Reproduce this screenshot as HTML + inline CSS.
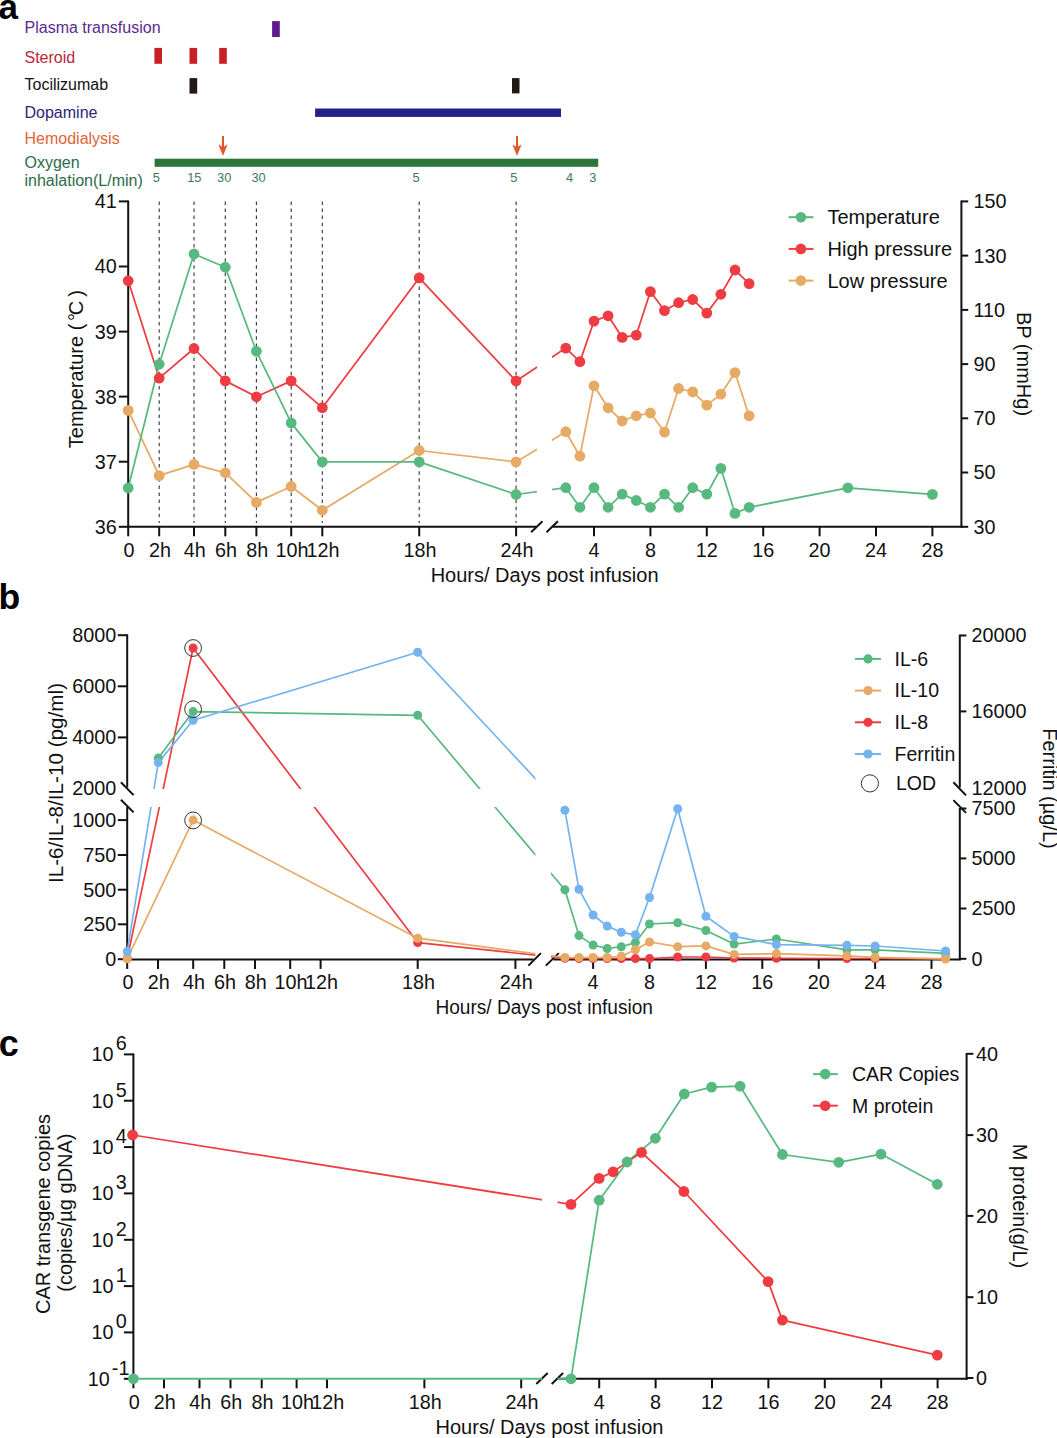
<!DOCTYPE html>
<html><head><meta charset="utf-8"><style>
html,body{margin:0;padding:0;background:#fff;}
svg{display:block;font-family:"Liberation Sans",sans-serif;}
</style></head><body>
<svg width="1057" height="1438" viewBox="0 0 1057 1438">
<rect width="1057" height="1438" fill="#fff"/>
<defs>
<clipPath id="ca"><rect x="0" y="150" width="537" height="400"/><rect x="552" y="150" width="505" height="400"/></clipPath>
<clipPath id="cb"><rect x="0" y="600" width="535.4" height="189"/><rect x="551" y="600" width="506" height="189"/><rect x="0" y="806.9" width="535.4" height="200"/><rect x="551" y="806.9" width="506" height="200"/></clipPath>
<clipPath id="cc"><rect x="0" y="1000" width="542" height="438"/><rect x="557.5" y="1000" width="500" height="438"/></clipPath>
</defs>
<text x="-1.6" y="18.7" font-size="35" text-anchor="start" fill="#000" font-weight="bold" >a</text>
<text x="24.5" y="32.9" font-size="16" text-anchor="start" fill="#5A2A8E" font-weight="normal" >Plasma transfusion</text>
<text x="24.5" y="63.2" font-size="16" text-anchor="start" fill="#B8283A" font-weight="normal" >Steroid</text>
<text x="24.5" y="89.7" font-size="16" text-anchor="start" fill="#111" font-weight="normal" >Tocilizumab</text>
<text x="24.5" y="118.2" font-size="16" text-anchor="start" fill="#2A2578" font-weight="normal" >Dopamine</text>
<text x="24.5" y="144" font-size="16" text-anchor="start" fill="#DE6535" font-weight="normal" >Hemodialysis</text>
<text x="24.5" y="167.5" font-size="16" text-anchor="start" fill="#2D6B48" font-weight="normal" >Oxygen</text>
<text x="24.5" y="186.4" font-size="16" text-anchor="start" fill="#2D6B48" font-weight="normal" >inhalation(L/min)</text>
<rect x="272.1" y="21.1" width="7.7" height="15.9" fill="#5F1C91"/>
<rect x="154.4" y="47.9" width="7.6" height="15.9" fill="#C82026"/>
<rect x="189.5" y="47.9" width="7.6" height="15.9" fill="#C82026"/>
<rect x="219.2" y="47.9" width="7.6" height="15.9" fill="#C82026"/>
<rect x="189.5" y="78.1" width="7.7" height="15.5" fill="#231815"/>
<rect x="512" y="78.1" width="7.5" height="15.3" fill="#231815"/>
<rect x="315.1" y="108.5" width="245.9" height="8.4" fill="#24208C"/>
<rect x="154.6" y="158.7" width="443.6" height="8.1" fill="#2C763A"/>
<line x1="223" y1="135.9" x2="223" y2="149" stroke="#E15523" stroke-width="2" />
<path d="M218.9,144.9 L223,147.6 L227.1,144.9 L223,155.3 Z" fill="#E15523" stroke="#E15523" stroke-width="0.5" stroke-linejoin="round"/>
<line x1="517" y1="135.9" x2="517" y2="149" stroke="#E15523" stroke-width="2" />
<path d="M512.9,144.9 L517,147.6 L521.1,144.9 L517,155.3 Z" fill="#E15523" stroke="#E15523" stroke-width="0.5" stroke-linejoin="round"/>
<text x="156.4" y="181.9" font-size="12.8" text-anchor="middle" fill="#3E7A55" font-weight="normal" >5</text>
<text x="194.3" y="181.9" font-size="12.8" text-anchor="middle" fill="#3E7A55" font-weight="normal" >15</text>
<text x="224.2" y="181.9" font-size="12.8" text-anchor="middle" fill="#3E7A55" font-weight="normal" >30</text>
<text x="258.5" y="181.9" font-size="12.8" text-anchor="middle" fill="#3E7A55" font-weight="normal" >30</text>
<text x="416" y="181.9" font-size="12.8" text-anchor="middle" fill="#3E7A55" font-weight="normal" >5</text>
<text x="513.7" y="181.9" font-size="12.8" text-anchor="middle" fill="#3E7A55" font-weight="normal" >5</text>
<text x="569.5" y="181.9" font-size="12.8" text-anchor="middle" fill="#3E7A55" font-weight="normal" >4</text>
<text x="592.8" y="181.9" font-size="12.8" text-anchor="middle" fill="#3E7A55" font-weight="normal" >3</text>
<line x1="128.2" y1="200.5" x2="128.2" y2="527.8" stroke="#111111" stroke-width="2" />
<line x1="118.8" y1="201.4" x2="128.2" y2="201.4" stroke="#111111" stroke-width="2" />
<text x="116.8" y="208.3" font-size="19.8" text-anchor="end" fill="#111" font-weight="normal" >41</text>
<line x1="118.8" y1="266.5" x2="128.2" y2="266.5" stroke="#111111" stroke-width="2" />
<text x="116.8" y="273.4" font-size="19.8" text-anchor="end" fill="#111" font-weight="normal" >40</text>
<line x1="118.8" y1="331.6" x2="128.2" y2="331.6" stroke="#111111" stroke-width="2" />
<text x="116.8" y="338.5" font-size="19.8" text-anchor="end" fill="#111" font-weight="normal" >39</text>
<line x1="118.8" y1="396.6" x2="128.2" y2="396.6" stroke="#111111" stroke-width="2" />
<text x="116.8" y="403.5" font-size="19.8" text-anchor="end" fill="#111" font-weight="normal" >38</text>
<line x1="118.8" y1="461.7" x2="128.2" y2="461.7" stroke="#111111" stroke-width="2" />
<text x="116.8" y="468.6" font-size="19.8" text-anchor="end" fill="#111" font-weight="normal" >37</text>
<line x1="118.8" y1="526.8" x2="128.2" y2="526.8" stroke="#111111" stroke-width="2" />
<text x="116.8" y="533.7" font-size="19.8" text-anchor="end" fill="#111" font-weight="normal" >36</text>
<line x1="961.4" y1="200.5" x2="961.4" y2="527.8" stroke="#111111" stroke-width="2" />
<line x1="961.4" y1="201.4" x2="968.2" y2="201.4" stroke="#111111" stroke-width="2" />
<text x="973.5" y="208.3" font-size="19.8" text-anchor="start" fill="#111" font-weight="normal" >150</text>
<line x1="961.4" y1="255.6" x2="968.2" y2="255.6" stroke="#111111" stroke-width="2" />
<text x="973.5" y="262.5" font-size="19.8" text-anchor="start" fill="#111" font-weight="normal" >130</text>
<line x1="961.4" y1="309.9" x2="968.2" y2="309.9" stroke="#111111" stroke-width="2" />
<text x="973.5" y="316.8" font-size="19.8" text-anchor="start" fill="#111" font-weight="normal" >110</text>
<line x1="961.4" y1="364.1" x2="968.2" y2="364.1" stroke="#111111" stroke-width="2" />
<text x="973.5" y="371" font-size="19.8" text-anchor="start" fill="#111" font-weight="normal" >90</text>
<line x1="961.4" y1="418.3" x2="968.2" y2="418.3" stroke="#111111" stroke-width="2" />
<text x="973.5" y="425.2" font-size="19.8" text-anchor="start" fill="#111" font-weight="normal" >70</text>
<line x1="961.4" y1="472.5" x2="968.2" y2="472.5" stroke="#111111" stroke-width="2" />
<text x="973.5" y="479.4" font-size="19.8" text-anchor="start" fill="#111" font-weight="normal" >50</text>
<line x1="961.4" y1="526.8" x2="968.2" y2="526.8" stroke="#111111" stroke-width="2" />
<text x="973.5" y="533.7" font-size="19.8" text-anchor="start" fill="#111" font-weight="normal" >30</text>
<line x1="127.2" y1="526.8" x2="536" y2="526.8" stroke="#111111" stroke-width="2" />
<line x1="552.5" y1="526.8" x2="962.4" y2="526.8" stroke="#111111" stroke-width="2" />
<line x1="531.1" y1="532.3" x2="542.5" y2="521.3" stroke="#111111" stroke-width="2" />
<line x1="546.5" y1="532.3" x2="557.9" y2="521.3" stroke="#111111" stroke-width="2" />
<line x1="128.2" y1="526.8" x2="128.2" y2="536.3" stroke="#111111" stroke-width="2" />
<text x="129" y="557" font-size="19.8" text-anchor="middle" fill="#111" font-weight="normal" >0</text>
<line x1="159.2" y1="526.8" x2="159.2" y2="536.3" stroke="#111111" stroke-width="2" />
<text x="160" y="557" font-size="19.8" text-anchor="middle" fill="#111" font-weight="normal" >2h</text>
<line x1="194" y1="526.8" x2="194" y2="536.3" stroke="#111111" stroke-width="2" />
<text x="194.8" y="557" font-size="19.8" text-anchor="middle" fill="#111" font-weight="normal" >4h</text>
<line x1="225.3" y1="526.8" x2="225.3" y2="536.3" stroke="#111111" stroke-width="2" />
<text x="226.1" y="557" font-size="19.8" text-anchor="middle" fill="#111" font-weight="normal" >6h</text>
<line x1="256.4" y1="526.8" x2="256.4" y2="536.3" stroke="#111111" stroke-width="2" />
<text x="257.2" y="557" font-size="19.8" text-anchor="middle" fill="#111" font-weight="normal" >8h</text>
<line x1="291.2" y1="526.8" x2="291.2" y2="536.3" stroke="#111111" stroke-width="2" />
<text x="292" y="557" font-size="19.8" text-anchor="middle" fill="#111" font-weight="normal" >10h</text>
<line x1="322.3" y1="526.8" x2="322.3" y2="536.3" stroke="#111111" stroke-width="2" />
<text x="323.1" y="557" font-size="19.8" text-anchor="middle" fill="#111" font-weight="normal" >12h</text>
<line x1="419.2" y1="526.8" x2="419.2" y2="536.3" stroke="#111111" stroke-width="2" />
<text x="420" y="557" font-size="19.8" text-anchor="middle" fill="#111" font-weight="normal" >18h</text>
<line x1="516.1" y1="526.8" x2="516.1" y2="536.3" stroke="#111111" stroke-width="2" />
<text x="516.9" y="557" font-size="19.8" text-anchor="middle" fill="#111" font-weight="normal" >24h</text>
<line x1="594" y1="526.8" x2="594" y2="536.3" stroke="#111111" stroke-width="2" />
<text x="594" y="557" font-size="19.8" text-anchor="middle" fill="#111" font-weight="normal" >4</text>
<line x1="650.4" y1="526.8" x2="650.4" y2="536.3" stroke="#111111" stroke-width="2" />
<text x="650.4" y="557" font-size="19.8" text-anchor="middle" fill="#111" font-weight="normal" >8</text>
<line x1="706.8" y1="526.8" x2="706.8" y2="536.3" stroke="#111111" stroke-width="2" />
<text x="706.8" y="557" font-size="19.8" text-anchor="middle" fill="#111" font-weight="normal" >12</text>
<line x1="763.2" y1="526.8" x2="763.2" y2="536.3" stroke="#111111" stroke-width="2" />
<text x="763.2" y="557" font-size="19.8" text-anchor="middle" fill="#111" font-weight="normal" >16</text>
<line x1="819.6" y1="526.8" x2="819.6" y2="536.3" stroke="#111111" stroke-width="2" />
<text x="819.6" y="557" font-size="19.8" text-anchor="middle" fill="#111" font-weight="normal" >20</text>
<line x1="876" y1="526.8" x2="876" y2="536.3" stroke="#111111" stroke-width="2" />
<text x="876" y="557" font-size="19.8" text-anchor="middle" fill="#111" font-weight="normal" >24</text>
<line x1="932.4" y1="526.8" x2="932.4" y2="536.3" stroke="#111111" stroke-width="2" />
<text x="932.4" y="557" font-size="19.8" text-anchor="middle" fill="#111" font-weight="normal" >28</text>
<text x="544.6" y="581.5" font-size="20" text-anchor="middle" fill="#111" font-weight="normal" >Hours/ Days post infusion</text>
<line x1="159.2" y1="201.4" x2="159.2" y2="523" stroke="#333" stroke-width="1.1" stroke-dasharray="3.5 3.6"/>
<line x1="194" y1="201.4" x2="194" y2="523" stroke="#333" stroke-width="1.1" stroke-dasharray="3.5 3.6"/>
<line x1="225.3" y1="201.4" x2="225.3" y2="523" stroke="#333" stroke-width="1.1" stroke-dasharray="3.5 3.6"/>
<line x1="256.4" y1="201.4" x2="256.4" y2="523" stroke="#333" stroke-width="1.1" stroke-dasharray="3.5 3.6"/>
<line x1="291.2" y1="201.4" x2="291.2" y2="523" stroke="#333" stroke-width="1.1" stroke-dasharray="3.5 3.6"/>
<line x1="322.3" y1="201.4" x2="322.3" y2="523" stroke="#333" stroke-width="1.1" stroke-dasharray="3.5 3.6"/>
<line x1="419.2" y1="201.4" x2="419.2" y2="523" stroke="#333" stroke-width="1.1" stroke-dasharray="3.5 3.6"/>
<line x1="516.1" y1="201.4" x2="516.1" y2="523" stroke="#333" stroke-width="1.1" stroke-dasharray="3.5 3.6"/>
<text transform="translate(83.2,448.2) rotate(-90)" font-size="20" text-anchor="start" fill="#111">Temperature</text>
<text transform="translate(83.2,330.2) rotate(-90)" font-size="20" text-anchor="start" fill="#111">(</text>
<text transform="translate(83.2,321) rotate(-90)" font-size="20" text-anchor="start" fill="#111">°</text>
<text transform="translate(83.2,315.2) rotate(-90)" font-size="20" text-anchor="start" fill="#111">C</text>
<text transform="translate(83.2,296.8) rotate(-90)" font-size="20" text-anchor="start" fill="#111">)</text>
<text transform="translate(1017.2,364) rotate(90)" font-size="20" text-anchor="middle" fill="#111">BP (mmHg)</text>
<polyline points="128.2,410.4 159.2,475.6 194,464.4 225.3,472.8 256.4,502.4 291.2,486.5 322.3,510.3 419.2,450.5 516.1,461.9 565.8,431.7 579.9,456.2 594,385.8 608.1,407.8 622.2,421 636.3,415.8 650.4,413 664.5,432.1 678.6,388.5 692.7,391.9 706.8,405.1 720.9,394.2 735,372.6 749.1,415.8" fill="none" stroke="#E6AA64" stroke-width="1.75" stroke-linejoin="round" clip-path="url(#ca)"/>
<polyline points="128.2,280.8 159.2,378.1 194,348.5 225.3,380.9 256.4,396.8 291.2,380.9 322.3,407.7 419.2,277.9 516.1,381 565.8,348.1 579.9,361.7 594,321.1 608.1,315.8 622.2,337.4 636.3,335.1 650.4,291.6 664.5,310.6 678.6,302.7 692.7,299.5 706.8,313.1 720.9,294.3 735,270 749.1,283.6" fill="none" stroke="#EE3C42" stroke-width="1.75" stroke-linejoin="round" clip-path="url(#ca)"/>
<polyline points="128.2,488 159.2,364.3 194,254 225.3,267.2 256.4,351.3 291.2,422.9 322.3,461.9 419.2,461.9 516.1,494.5 565.8,487.7 579.9,507.3 594,487.7 608.1,507.3 622.2,494.1 636.3,500.5 650.4,507.3 664.5,494.1 678.6,507.3 692.7,487.7 706.8,494.1 720.9,468.4 735,513.4 749.1,507.3 847.8,487.8 932.4,494.4" fill="none" stroke="#57B97F" stroke-width="1.75" stroke-linejoin="round" clip-path="url(#ca)"/>
<g fill="#E6AA64"><circle cx="128.2" cy="410.4" r="5.4"/><circle cx="159.2" cy="475.6" r="5.4"/><circle cx="194" cy="464.4" r="5.4"/><circle cx="225.3" cy="472.8" r="5.4"/><circle cx="256.4" cy="502.4" r="5.4"/><circle cx="291.2" cy="486.5" r="5.4"/><circle cx="322.3" cy="510.3" r="5.4"/><circle cx="419.2" cy="450.5" r="5.4"/><circle cx="516.1" cy="461.9" r="5.4"/><circle cx="565.8" cy="431.7" r="5.4"/><circle cx="579.9" cy="456.2" r="5.4"/><circle cx="594" cy="385.8" r="5.4"/><circle cx="608.1" cy="407.8" r="5.4"/><circle cx="622.2" cy="421" r="5.4"/><circle cx="636.3" cy="415.8" r="5.4"/><circle cx="650.4" cy="413" r="5.4"/><circle cx="664.5" cy="432.1" r="5.4"/><circle cx="678.6" cy="388.5" r="5.4"/><circle cx="692.7" cy="391.9" r="5.4"/><circle cx="706.8" cy="405.1" r="5.4"/><circle cx="720.9" cy="394.2" r="5.4"/><circle cx="735" cy="372.6" r="5.4"/><circle cx="749.1" cy="415.8" r="5.4"/></g>
<g fill="#EE3C42"><circle cx="128.2" cy="280.8" r="5.4"/><circle cx="159.2" cy="378.1" r="5.4"/><circle cx="194" cy="348.5" r="5.4"/><circle cx="225.3" cy="380.9" r="5.4"/><circle cx="256.4" cy="396.8" r="5.4"/><circle cx="291.2" cy="380.9" r="5.4"/><circle cx="322.3" cy="407.7" r="5.4"/><circle cx="419.2" cy="277.9" r="5.4"/><circle cx="516.1" cy="381" r="5.4"/><circle cx="565.8" cy="348.1" r="5.4"/><circle cx="579.9" cy="361.7" r="5.4"/><circle cx="594" cy="321.1" r="5.4"/><circle cx="608.1" cy="315.8" r="5.4"/><circle cx="622.2" cy="337.4" r="5.4"/><circle cx="636.3" cy="335.1" r="5.4"/><circle cx="650.4" cy="291.6" r="5.4"/><circle cx="664.5" cy="310.6" r="5.4"/><circle cx="678.6" cy="302.7" r="5.4"/><circle cx="692.7" cy="299.5" r="5.4"/><circle cx="706.8" cy="313.1" r="5.4"/><circle cx="720.9" cy="294.3" r="5.4"/><circle cx="735" cy="270" r="5.4"/><circle cx="749.1" cy="283.6" r="5.4"/></g>
<g fill="#57B97F"><circle cx="128.2" cy="488" r="5.4"/><circle cx="159.2" cy="364.3" r="5.4"/><circle cx="194" cy="254" r="5.4"/><circle cx="225.3" cy="267.2" r="5.4"/><circle cx="256.4" cy="351.3" r="5.4"/><circle cx="291.2" cy="422.9" r="5.4"/><circle cx="322.3" cy="461.9" r="5.4"/><circle cx="419.2" cy="461.9" r="5.4"/><circle cx="516.1" cy="494.5" r="5.4"/><circle cx="565.8" cy="487.7" r="5.4"/><circle cx="579.9" cy="507.3" r="5.4"/><circle cx="594" cy="487.7" r="5.4"/><circle cx="608.1" cy="507.3" r="5.4"/><circle cx="622.2" cy="494.1" r="5.4"/><circle cx="636.3" cy="500.5" r="5.4"/><circle cx="650.4" cy="507.3" r="5.4"/><circle cx="664.5" cy="494.1" r="5.4"/><circle cx="678.6" cy="507.3" r="5.4"/><circle cx="692.7" cy="487.7" r="5.4"/><circle cx="706.8" cy="494.1" r="5.4"/><circle cx="720.9" cy="468.4" r="5.4"/><circle cx="735" cy="513.4" r="5.4"/><circle cx="749.1" cy="507.3" r="5.4"/><circle cx="847.8" cy="487.8" r="5.4"/><circle cx="932.4" cy="494.4" r="5.4"/></g>
<line x1="788.6" y1="217.2" x2="813.5" y2="217.2" stroke="#57B97F" stroke-width="2" />
<circle cx="800.9" cy="217.2" r="5.3" fill="#57B97F"/>
<text x="827.5" y="224.3" font-size="20" text-anchor="start" fill="#111" font-weight="normal" >Temperature</text>
<line x1="788.6" y1="248.9" x2="813.5" y2="248.9" stroke="#EE3C42" stroke-width="2" />
<circle cx="800.9" cy="248.9" r="5.3" fill="#EE3C42"/>
<text x="827.5" y="256" font-size="20" text-anchor="start" fill="#111" font-weight="normal" >High pressure</text>
<line x1="788.6" y1="280.6" x2="813.5" y2="280.6" stroke="#E6AA64" stroke-width="2" />
<circle cx="800.9" cy="280.6" r="5.3" fill="#E6AA64"/>
<text x="827.5" y="287.7" font-size="20" text-anchor="start" fill="#111" font-weight="normal" >Low pressure</text>
<text x="-1.4" y="609.2" font-size="35.5" text-anchor="start" fill="#000" font-weight="bold" >b</text>
<line x1="127.2" y1="634.3" x2="127.2" y2="787.5" stroke="#111111" stroke-width="2" />
<line x1="117.8" y1="635.2" x2="127.2" y2="635.2" stroke="#111111" stroke-width="2" />
<text x="116.2" y="642.1" font-size="19.8" text-anchor="end" fill="#111" font-weight="normal" >8000</text>
<line x1="117.8" y1="686.3" x2="127.2" y2="686.3" stroke="#111111" stroke-width="2" />
<text x="116.2" y="693.2" font-size="19.8" text-anchor="end" fill="#111" font-weight="normal" >6000</text>
<line x1="117.8" y1="737.4" x2="127.2" y2="737.4" stroke="#111111" stroke-width="2" />
<text x="116.2" y="744.3" font-size="19.8" text-anchor="end" fill="#111" font-weight="normal" >4000</text>
<text x="116.2" y="795.4" font-size="19.8" text-anchor="end" fill="#111" font-weight="normal" >2000</text>
<line x1="120.9" y1="782.3" x2="133.6" y2="795.1" stroke="#111111" stroke-width="2" />
<line x1="127.2" y1="807" x2="127.2" y2="960.2" stroke="#111111" stroke-width="2" />
<line x1="120.9" y1="799.8" x2="133.6" y2="812.4" stroke="#111111" stroke-width="2" />
<line x1="117.8" y1="820.1" x2="127.2" y2="820.1" stroke="#111111" stroke-width="2" />
<text x="116.2" y="827" font-size="19.8" text-anchor="end" fill="#111" font-weight="normal" >1000</text>
<line x1="117.8" y1="855" x2="127.2" y2="855" stroke="#111111" stroke-width="2" />
<text x="116.2" y="861.9" font-size="19.8" text-anchor="end" fill="#111" font-weight="normal" >750</text>
<line x1="117.8" y1="889.7" x2="127.2" y2="889.7" stroke="#111111" stroke-width="2" />
<text x="116.2" y="896.6" font-size="19.8" text-anchor="end" fill="#111" font-weight="normal" >500</text>
<line x1="117.8" y1="924.3" x2="127.2" y2="924.3" stroke="#111111" stroke-width="2" />
<text x="116.2" y="931.2" font-size="19.8" text-anchor="end" fill="#111" font-weight="normal" >250</text>
<line x1="117.8" y1="959.2" x2="127.2" y2="959.2" stroke="#111111" stroke-width="2" />
<text x="116.2" y="966.1" font-size="19.8" text-anchor="end" fill="#111" font-weight="normal" >0</text>
<line x1="959.8" y1="634.6" x2="959.8" y2="787.5" stroke="#111111" stroke-width="2" />
<line x1="959.8" y1="635.5" x2="966.4" y2="635.5" stroke="#111111" stroke-width="2" />
<text x="971.5" y="642.4" font-size="19.8" text-anchor="start" fill="#111" font-weight="normal" >20000</text>
<line x1="959.8" y1="711.4" x2="966.4" y2="711.4" stroke="#111111" stroke-width="2" />
<text x="971.5" y="718.3" font-size="19.8" text-anchor="start" fill="#111" font-weight="normal" >16000</text>
<text x="971.5" y="795.1" font-size="19.8" text-anchor="start" fill="#111" font-weight="normal" >12000</text>
<line x1="953.4" y1="782.2" x2="966" y2="795.4" stroke="#111111" stroke-width="2" />
<line x1="953.4" y1="800.1" x2="966" y2="812.9" stroke="#111111" stroke-width="2" />
<line x1="959.8" y1="808" x2="959.8" y2="960.2" stroke="#111111" stroke-width="2" />
<line x1="959.8" y1="808.5" x2="966.4" y2="808.5" stroke="#111111" stroke-width="2" />
<text x="971.5" y="815.4" font-size="19.8" text-anchor="start" fill="#111" font-weight="normal" >7500</text>
<line x1="959.8" y1="858.4" x2="966.4" y2="858.4" stroke="#111111" stroke-width="2" />
<text x="971.5" y="865.3" font-size="19.8" text-anchor="start" fill="#111" font-weight="normal" >5000</text>
<line x1="959.8" y1="908.5" x2="966.4" y2="908.5" stroke="#111111" stroke-width="2" />
<text x="971.5" y="915.4" font-size="19.8" text-anchor="start" fill="#111" font-weight="normal" >2500</text>
<line x1="959.8" y1="958.8" x2="966.4" y2="958.8" stroke="#111111" stroke-width="2" />
<text x="971.5" y="965.7" font-size="19.8" text-anchor="start" fill="#111" font-weight="normal" >0</text>
<line x1="126.2" y1="959.4" x2="533.5" y2="959.4" stroke="#111111" stroke-width="2" />
<line x1="553.5" y1="959.4" x2="960.8" y2="959.4" stroke="#111111" stroke-width="2" />
<line x1="528.4" y1="965.6" x2="540.9" y2="953.1" stroke="#111111" stroke-width="2" />
<line x1="545.8" y1="965.6" x2="558.8" y2="953.1" stroke="#111111" stroke-width="2" />
<line x1="127.2" y1="959.4" x2="127.2" y2="968.9" stroke="#111111" stroke-width="2" />
<text x="128" y="988.7" font-size="19.8" text-anchor="middle" fill="#111" font-weight="normal" >0</text>
<line x1="158" y1="959.4" x2="158" y2="968.9" stroke="#111111" stroke-width="2" />
<text x="158.8" y="988.7" font-size="19.8" text-anchor="middle" fill="#111" font-weight="normal" >2h</text>
<line x1="193.2" y1="959.4" x2="193.2" y2="968.9" stroke="#111111" stroke-width="2" />
<text x="194" y="988.7" font-size="19.8" text-anchor="middle" fill="#111" font-weight="normal" >4h</text>
<line x1="224.3" y1="959.4" x2="224.3" y2="968.9" stroke="#111111" stroke-width="2" />
<text x="225.1" y="988.7" font-size="19.8" text-anchor="middle" fill="#111" font-weight="normal" >6h</text>
<line x1="255" y1="959.4" x2="255" y2="968.9" stroke="#111111" stroke-width="2" />
<text x="255.8" y="988.7" font-size="19.8" text-anchor="middle" fill="#111" font-weight="normal" >8h</text>
<line x1="290.2" y1="959.4" x2="290.2" y2="968.9" stroke="#111111" stroke-width="2" />
<text x="291" y="988.7" font-size="19.8" text-anchor="middle" fill="#111" font-weight="normal" >10h</text>
<line x1="320.6" y1="959.4" x2="320.6" y2="968.9" stroke="#111111" stroke-width="2" />
<text x="321.4" y="988.7" font-size="19.8" text-anchor="middle" fill="#111" font-weight="normal" >12h</text>
<line x1="417.7" y1="959.4" x2="417.7" y2="968.9" stroke="#111111" stroke-width="2" />
<text x="418.5" y="988.7" font-size="19.8" text-anchor="middle" fill="#111" font-weight="normal" >18h</text>
<line x1="515.4" y1="959.4" x2="515.4" y2="968.9" stroke="#111111" stroke-width="2" />
<text x="516.2" y="988.7" font-size="19.8" text-anchor="middle" fill="#111" font-weight="normal" >24h</text>
<line x1="593.1" y1="959.4" x2="593.1" y2="968.9" stroke="#111111" stroke-width="2" />
<text x="593.1" y="988.7" font-size="19.8" text-anchor="middle" fill="#111" font-weight="normal" >4</text>
<line x1="649.5" y1="959.4" x2="649.5" y2="968.9" stroke="#111111" stroke-width="2" />
<text x="649.5" y="988.7" font-size="19.8" text-anchor="middle" fill="#111" font-weight="normal" >8</text>
<line x1="705.9" y1="959.4" x2="705.9" y2="968.9" stroke="#111111" stroke-width="2" />
<text x="705.9" y="988.7" font-size="19.8" text-anchor="middle" fill="#111" font-weight="normal" >12</text>
<line x1="762.3" y1="959.4" x2="762.3" y2="968.9" stroke="#111111" stroke-width="2" />
<text x="762.3" y="988.7" font-size="19.8" text-anchor="middle" fill="#111" font-weight="normal" >16</text>
<line x1="818.7" y1="959.4" x2="818.7" y2="968.9" stroke="#111111" stroke-width="2" />
<text x="818.7" y="988.7" font-size="19.8" text-anchor="middle" fill="#111" font-weight="normal" >20</text>
<line x1="875.1" y1="959.4" x2="875.1" y2="968.9" stroke="#111111" stroke-width="2" />
<text x="875.1" y="988.7" font-size="19.8" text-anchor="middle" fill="#111" font-weight="normal" >24</text>
<line x1="931.5" y1="959.4" x2="931.5" y2="968.9" stroke="#111111" stroke-width="2" />
<text x="931.5" y="988.7" font-size="19.8" text-anchor="middle" fill="#111" font-weight="normal" >28</text>
<text x="544.2" y="1014" font-size="20" text-anchor="middle" fill="#111" font-weight="normal" textLength="217.5" lengthAdjust="spacingAndGlyphs">Hours/ Days post infusion</text>
<text transform="translate(62.6,783) rotate(-90)" font-size="20.7" text-anchor="middle" fill="#111">IL-6/IL-8/IL-10 (pg/ml)</text>
<text transform="translate(1042.5,788.5) rotate(90)" font-size="20" text-anchor="middle" fill="#111">Ferritin (µg/L)</text>
<polyline points="127.2,958.5 193.1,648 417.7,942.6 564.9,958.3 579,958.5 593.1,958.5 607.2,958.5 621.3,958.5 635.4,958.6 649.5,958.6 677.7,957 705.9,957 734.1,958 776.4,958.3 846.9,958.5 875.1,958.5 945.6,958.8" fill="none" stroke="#EE3C42" stroke-width="1.7" stroke-linejoin="round" clip-path="url(#cb)"/>
<polyline points="158.3,758.1 193.1,711.6 417.7,715.3 564.9,889.8 579,935.6 593.1,945.1 607.2,948.5 621.3,946.7 635.4,942.6 649.5,924 677.7,922.7 705.9,930.5 734.1,944.1 776.4,939 846.9,949.8 875.1,949.8 945.6,953.4" fill="none" stroke="#57B97F" stroke-width="1.7" stroke-linejoin="round" clip-path="url(#cb)"/>
<polyline points="127.2,958.8 193.1,820.1 417.7,938.2 564.9,957.5 579,957.5 593.1,957.5 607.2,957.5 621.3,956.2 635.4,949.8 649.5,942 677.7,946.7 705.9,945.9 734.1,954.4 776.4,953.6 846.9,955.8 875.1,957.3 945.6,958.8" fill="none" stroke="#E6AA64" stroke-width="1.7" stroke-linejoin="round" clip-path="url(#cb)"/>
<polyline points="127.2,951.6 158.3,762.6 193.1,720.2 417.7,652.3 564.9,810.3 579,889.3 593.1,915 607.2,926.1 621.3,932.3 635.4,934.8 649.5,897.5 677.7,808.7 705.9,916.3 734.1,936.4 776.4,944.6 846.9,945.3 875.1,946 945.6,951" fill="none" stroke="#74B3EF" stroke-width="1.7" stroke-linejoin="round" clip-path="url(#cb)"/>
<g fill="#EE3C42"><circle cx="127.2" cy="958.5" r="4.5"/><circle cx="193.1" cy="648" r="4.5"/><circle cx="417.7" cy="942.6" r="4.5"/><circle cx="564.9" cy="958.3" r="4.5"/><circle cx="579" cy="958.5" r="4.5"/><circle cx="593.1" cy="958.5" r="4.5"/><circle cx="607.2" cy="958.5" r="4.5"/><circle cx="621.3" cy="958.5" r="4.5"/><circle cx="635.4" cy="958.6" r="4.5"/><circle cx="649.5" cy="958.6" r="4.5"/><circle cx="677.7" cy="957" r="4.5"/><circle cx="705.9" cy="957" r="4.5"/><circle cx="734.1" cy="958" r="4.5"/><circle cx="776.4" cy="958.3" r="4.5"/><circle cx="846.9" cy="958.5" r="4.5"/><circle cx="875.1" cy="958.5" r="4.5"/><circle cx="945.6" cy="958.8" r="4.5"/></g>
<g fill="#57B97F"><circle cx="158.3" cy="758.1" r="4.5"/><circle cx="193.1" cy="711.6" r="4.5"/><circle cx="417.7" cy="715.3" r="4.5"/><circle cx="564.9" cy="889.8" r="4.5"/><circle cx="579" cy="935.6" r="4.5"/><circle cx="593.1" cy="945.1" r="4.5"/><circle cx="607.2" cy="948.5" r="4.5"/><circle cx="621.3" cy="946.7" r="4.5"/><circle cx="635.4" cy="942.6" r="4.5"/><circle cx="649.5" cy="924" r="4.5"/><circle cx="677.7" cy="922.7" r="4.5"/><circle cx="705.9" cy="930.5" r="4.5"/><circle cx="734.1" cy="944.1" r="4.5"/><circle cx="776.4" cy="939" r="4.5"/><circle cx="846.9" cy="949.8" r="4.5"/><circle cx="875.1" cy="949.8" r="4.5"/><circle cx="945.6" cy="953.4" r="4.5"/></g>
<g fill="#E6AA64"><circle cx="127.2" cy="958.8" r="4.5"/><circle cx="193.1" cy="820.1" r="4.5"/><circle cx="417.7" cy="938.2" r="4.5"/><circle cx="564.9" cy="957.5" r="4.5"/><circle cx="579" cy="957.5" r="4.5"/><circle cx="593.1" cy="957.5" r="4.5"/><circle cx="607.2" cy="957.5" r="4.5"/><circle cx="621.3" cy="956.2" r="4.5"/><circle cx="635.4" cy="949.8" r="4.5"/><circle cx="649.5" cy="942" r="4.5"/><circle cx="677.7" cy="946.7" r="4.5"/><circle cx="705.9" cy="945.9" r="4.5"/><circle cx="734.1" cy="954.4" r="4.5"/><circle cx="776.4" cy="953.6" r="4.5"/><circle cx="846.9" cy="955.8" r="4.5"/><circle cx="875.1" cy="957.3" r="4.5"/><circle cx="945.6" cy="958.8" r="4.5"/></g>
<g fill="#74B3EF"><circle cx="127.2" cy="951.6" r="4.5"/><circle cx="158.3" cy="762.6" r="4.5"/><circle cx="193.1" cy="720.2" r="4.5"/><circle cx="417.7" cy="652.3" r="4.5"/><circle cx="564.9" cy="810.3" r="4.5"/><circle cx="579" cy="889.3" r="4.5"/><circle cx="593.1" cy="915" r="4.5"/><circle cx="607.2" cy="926.1" r="4.5"/><circle cx="621.3" cy="932.3" r="4.5"/><circle cx="635.4" cy="934.8" r="4.5"/><circle cx="649.5" cy="897.5" r="4.5"/><circle cx="677.7" cy="808.7" r="4.5"/><circle cx="705.9" cy="916.3" r="4.5"/><circle cx="734.1" cy="936.4" r="4.5"/><circle cx="776.4" cy="944.6" r="4.5"/><circle cx="846.9" cy="945.3" r="4.5"/><circle cx="875.1" cy="946" r="4.5"/><circle cx="945.6" cy="951" r="4.5"/></g>
<circle cx="193.1" cy="648.0" r="8.4" fill="none" stroke="#333" stroke-width="1"/>
<circle cx="193.1" cy="709.2" r="8.4" fill="none" stroke="#333" stroke-width="1"/>
<circle cx="193.1" cy="820.4" r="8.4" fill="none" stroke="#333" stroke-width="1"/>
<line x1="854.9" y1="658.9" x2="881" y2="658.9" stroke="#57B97F" stroke-width="2" />
<circle cx="868" cy="658.9" r="4.6" fill="#57B97F"/>
<text x="894.6" y="665.7" font-size="19.5" text-anchor="start" fill="#111" font-weight="normal" >IL-6</text>
<line x1="854.9" y1="690.6" x2="881" y2="690.6" stroke="#E6AA64" stroke-width="2" />
<circle cx="868" cy="690.6" r="4.6" fill="#E6AA64"/>
<text x="894.6" y="697.4" font-size="19.5" text-anchor="start" fill="#111" font-weight="normal" >IL-10</text>
<line x1="854.9" y1="722.3" x2="881" y2="722.3" stroke="#EE3C42" stroke-width="2" />
<circle cx="868" cy="722.3" r="4.6" fill="#EE3C42"/>
<text x="894.6" y="729.1" font-size="19.5" text-anchor="start" fill="#111" font-weight="normal" >IL-8</text>
<line x1="854.9" y1="754" x2="881" y2="754" stroke="#74B3EF" stroke-width="2" />
<circle cx="868" cy="754" r="4.6" fill="#74B3EF"/>
<text x="894.6" y="760.8" font-size="19.5" text-anchor="start" fill="#111" font-weight="normal" >Ferritin</text>
<circle cx="869.9" cy="783.4" r="8.6" fill="none" stroke="#333" stroke-width="1"/>
<text x="896" y="790.2" font-size="19.5" text-anchor="start" fill="#111" font-weight="normal" >LOD</text>
<text x="-1.2" y="1055.6" font-size="36" text-anchor="start" fill="#000" font-weight="bold" >c</text>
<line x1="133.4" y1="1053.5" x2="133.4" y2="1379.8" stroke="#111111" stroke-width="2" />
<line x1="123.9" y1="1054.4" x2="133.4" y2="1054.4" stroke="#111111" stroke-width="2" />
<text x="113.6" y="1061.2" font-size="19.8" text-anchor="end" fill="#111">10</text>
<text x="115.8" y="1050.2" font-size="19.8" fill="#111">6</text>
<line x1="123.9" y1="1100.7" x2="133.4" y2="1100.7" stroke="#111111" stroke-width="2" />
<text x="113.6" y="1107.5" font-size="19.8" text-anchor="end" fill="#111">10</text>
<text x="115.8" y="1096.5" font-size="19.8" fill="#111">5</text>
<line x1="123.9" y1="1147.1" x2="133.4" y2="1147.1" stroke="#111111" stroke-width="2" />
<text x="113.6" y="1153.9" font-size="19.8" text-anchor="end" fill="#111">10</text>
<text x="115.8" y="1142.9" font-size="19.8" fill="#111">4</text>
<line x1="123.9" y1="1193.4" x2="133.4" y2="1193.4" stroke="#111111" stroke-width="2" />
<text x="113.6" y="1200.2" font-size="19.8" text-anchor="end" fill="#111">10</text>
<text x="115.8" y="1189.2" font-size="19.8" fill="#111">3</text>
<line x1="123.9" y1="1239.8" x2="133.4" y2="1239.8" stroke="#111111" stroke-width="2" />
<text x="113.6" y="1246.6" font-size="19.8" text-anchor="end" fill="#111">10</text>
<text x="115.8" y="1235.6" font-size="19.8" fill="#111">2</text>
<line x1="123.9" y1="1286.1" x2="133.4" y2="1286.1" stroke="#111111" stroke-width="2" />
<text x="113.6" y="1292.9" font-size="19.8" text-anchor="end" fill="#111">10</text>
<text x="115.8" y="1281.9" font-size="19.8" fill="#111">1</text>
<line x1="123.9" y1="1332.4" x2="133.4" y2="1332.4" stroke="#111111" stroke-width="2" />
<text x="113.6" y="1339.2" font-size="19.8" text-anchor="end" fill="#111">10</text>
<text x="115.8" y="1328.2" font-size="19.8" fill="#111">0</text>
<line x1="123.9" y1="1378.8" x2="133.4" y2="1378.8" stroke="#111111" stroke-width="2" />
<text x="109.8" y="1385.6" font-size="19.8" text-anchor="end" fill="#111">10</text>
<text x="111.8" y="1374.6" font-size="19.8" fill="#111">-1</text>
<line x1="966.6" y1="1053" x2="966.6" y2="1379.8" stroke="#111111" stroke-width="2" />
<line x1="966.6" y1="1053.8" x2="973.4" y2="1053.8" stroke="#111111" stroke-width="2" />
<text x="976" y="1060.7" font-size="19.8" text-anchor="start" fill="#111" font-weight="normal" >40</text>
<line x1="966.6" y1="1135.1" x2="973.4" y2="1135.1" stroke="#111111" stroke-width="2" />
<text x="976" y="1142" font-size="19.8" text-anchor="start" fill="#111" font-weight="normal" >30</text>
<line x1="966.6" y1="1215.9" x2="973.4" y2="1215.9" stroke="#111111" stroke-width="2" />
<text x="976" y="1222.8" font-size="19.8" text-anchor="start" fill="#111" font-weight="normal" >20</text>
<line x1="966.6" y1="1297.2" x2="973.4" y2="1297.2" stroke="#111111" stroke-width="2" />
<text x="976" y="1304.1" font-size="19.8" text-anchor="start" fill="#111" font-weight="normal" >10</text>
<line x1="966.6" y1="1378" x2="973.4" y2="1378" stroke="#111111" stroke-width="2" />
<text x="976" y="1384.9" font-size="19.8" text-anchor="start" fill="#111" font-weight="normal" >0</text>
<line x1="557.4" y1="1378.8" x2="967.6" y2="1378.8" stroke="#111111" stroke-width="2" />
<line x1="536.3" y1="1384" x2="547.7" y2="1373" stroke="#111111" stroke-width="2" />
<line x1="551.7" y1="1384" x2="563.1" y2="1373" stroke="#111111" stroke-width="2" />
<line x1="133.4" y1="1378.8" x2="133.4" y2="1388.3" stroke="#111111" stroke-width="2" />
<text x="134.2" y="1408.6" font-size="19.8" text-anchor="middle" fill="#111" font-weight="normal" >0</text>
<line x1="164" y1="1378.8" x2="164" y2="1388.3" stroke="#111111" stroke-width="2" />
<text x="164.8" y="1408.6" font-size="19.8" text-anchor="middle" fill="#111" font-weight="normal" >2h</text>
<line x1="199.5" y1="1378.8" x2="199.5" y2="1388.3" stroke="#111111" stroke-width="2" />
<text x="200.3" y="1408.6" font-size="19.8" text-anchor="middle" fill="#111" font-weight="normal" >4h</text>
<line x1="230.5" y1="1378.8" x2="230.5" y2="1388.3" stroke="#111111" stroke-width="2" />
<text x="231.3" y="1408.6" font-size="19.8" text-anchor="middle" fill="#111" font-weight="normal" >6h</text>
<line x1="261.7" y1="1378.8" x2="261.7" y2="1388.3" stroke="#111111" stroke-width="2" />
<text x="262.5" y="1408.6" font-size="19.8" text-anchor="middle" fill="#111" font-weight="normal" >8h</text>
<line x1="296.6" y1="1378.8" x2="296.6" y2="1388.3" stroke="#111111" stroke-width="2" />
<text x="297.4" y="1408.6" font-size="19.8" text-anchor="middle" fill="#111" font-weight="normal" >10h</text>
<line x1="327" y1="1378.8" x2="327" y2="1388.3" stroke="#111111" stroke-width="2" />
<text x="327.8" y="1408.6" font-size="19.8" text-anchor="middle" fill="#111" font-weight="normal" >12h</text>
<line x1="424.4" y1="1378.8" x2="424.4" y2="1388.3" stroke="#111111" stroke-width="2" />
<text x="425.2" y="1408.6" font-size="19.8" text-anchor="middle" fill="#111" font-weight="normal" >18h</text>
<line x1="521.2" y1="1378.8" x2="521.2" y2="1388.3" stroke="#111111" stroke-width="2" />
<text x="522" y="1408.6" font-size="19.8" text-anchor="middle" fill="#111" font-weight="normal" >24h</text>
<line x1="599.2" y1="1378.8" x2="599.2" y2="1388.3" stroke="#111111" stroke-width="2" />
<text x="599.2" y="1408.6" font-size="19.8" text-anchor="middle" fill="#111" font-weight="normal" >4</text>
<line x1="655.6" y1="1378.8" x2="655.6" y2="1388.3" stroke="#111111" stroke-width="2" />
<text x="655.6" y="1408.6" font-size="19.8" text-anchor="middle" fill="#111" font-weight="normal" >8</text>
<line x1="712" y1="1378.8" x2="712" y2="1388.3" stroke="#111111" stroke-width="2" />
<text x="712" y="1408.6" font-size="19.8" text-anchor="middle" fill="#111" font-weight="normal" >12</text>
<line x1="768.4" y1="1378.8" x2="768.4" y2="1388.3" stroke="#111111" stroke-width="2" />
<text x="768.4" y="1408.6" font-size="19.8" text-anchor="middle" fill="#111" font-weight="normal" >16</text>
<line x1="824.8" y1="1378.8" x2="824.8" y2="1388.3" stroke="#111111" stroke-width="2" />
<text x="824.8" y="1408.6" font-size="19.8" text-anchor="middle" fill="#111" font-weight="normal" >20</text>
<line x1="881.2" y1="1378.8" x2="881.2" y2="1388.3" stroke="#111111" stroke-width="2" />
<text x="881.2" y="1408.6" font-size="19.8" text-anchor="middle" fill="#111" font-weight="normal" >24</text>
<line x1="937.6" y1="1378.8" x2="937.6" y2="1388.3" stroke="#111111" stroke-width="2" />
<text x="937.6" y="1408.6" font-size="19.8" text-anchor="middle" fill="#111" font-weight="normal" >28</text>
<text x="549.5" y="1433.7" font-size="20" text-anchor="middle" fill="#111" font-weight="normal" >Hours/ Days post infusion</text>
<text transform="translate(49.9,1214) rotate(-90)" font-size="20" text-anchor="middle" fill="#111">CAR transgene copies</text>
<text transform="translate(72.4,1212.6) rotate(-90)" font-size="20" text-anchor="middle" fill="#111">(copies/µg gDNA)</text>
<text transform="translate(1012.5,1206) rotate(90)" font-size="20" text-anchor="middle" fill="#111">M protein(g/L)</text>
<polyline points="133.4,1378.8 571,1378.8" fill="none" stroke="#57B97F" stroke-width="2.1" stroke-linejoin="round" clip-path="url(#cc)"/>
<polyline points="571,1378.8 599.2,1200.2 627.1,1162 655.4,1138.3 684.3,1094 711.6,1087.1 740.1,1086.2 782.4,1154.5 838.7,1162.3 881,1154.1 937.3,1184.3" fill="none" stroke="#57B97F" stroke-width="1.75" stroke-linejoin="round" clip-path="url(#cc)"/>
<polyline points="132.6,1135 571,1204.4 599.1,1178.4 613.1,1171.8 641.5,1152.4 683.9,1191.5 768.1,1281.6 782.4,1320.1 937.3,1355.1" fill="none" stroke="#EE3C42" stroke-width="1.75" stroke-linejoin="round" clip-path="url(#cc)"/>
<g fill="#57B97F"><circle cx="133.4" cy="1378.8" r="5.4"/><circle cx="571" cy="1378.8" r="5.4"/><circle cx="599.2" cy="1200.2" r="5.4"/><circle cx="627.1" cy="1162" r="5.4"/><circle cx="655.4" cy="1138.3" r="5.4"/><circle cx="684.3" cy="1094" r="5.4"/><circle cx="711.6" cy="1087.1" r="5.4"/><circle cx="740.1" cy="1086.2" r="5.4"/><circle cx="782.4" cy="1154.5" r="5.4"/><circle cx="838.7" cy="1162.3" r="5.4"/><circle cx="881" cy="1154.1" r="5.4"/><circle cx="937.3" cy="1184.3" r="5.4"/></g>
<g fill="#EE3C42"><circle cx="132.6" cy="1135" r="5.4"/><circle cx="571" cy="1204.4" r="5.4"/><circle cx="599.1" cy="1178.4" r="5.4"/><circle cx="613.1" cy="1171.8" r="5.4"/><circle cx="641.5" cy="1152.4" r="5.4"/><circle cx="683.9" cy="1191.5" r="5.4"/><circle cx="768.1" cy="1281.6" r="5.4"/><circle cx="782.4" cy="1320.1" r="5.4"/><circle cx="937.3" cy="1355.1" r="5.4"/></g>
<line x1="813.1" y1="1074.1" x2="837.8" y2="1074.1" stroke="#57B97F" stroke-width="2" />
<circle cx="825.2" cy="1074.1" r="5.3" fill="#57B97F"/>
<text x="852" y="1080.9" font-size="19.5" text-anchor="start" fill="#111" font-weight="normal" >CAR Copies</text>
<line x1="813.1" y1="1105.7" x2="837.8" y2="1105.7" stroke="#EE3C42" stroke-width="2" />
<circle cx="825.2" cy="1105.7" r="5.3" fill="#EE3C42"/>
<text x="852" y="1112.5" font-size="19.5" text-anchor="start" fill="#111" font-weight="normal" >M protein</text>
</svg>
</body></html>
